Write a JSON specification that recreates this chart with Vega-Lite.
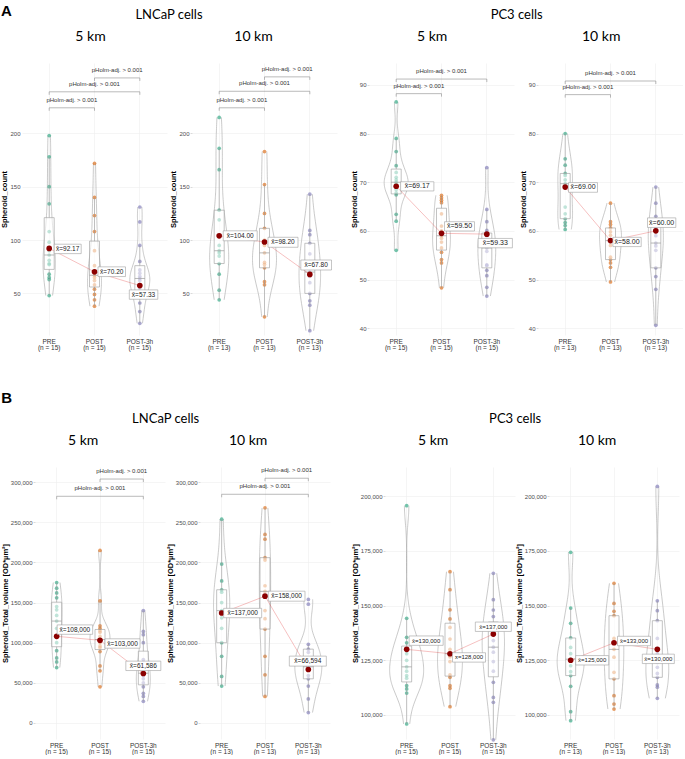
{
"$schema":"https://vega.github.io/schema/vega-lite/v6.json",
"background":"white",
"padding":{"left":0,"top":4,"right":0,"bottom":0},
"config":{
"view":{"stroke":null},
"title":{"font":"Lato","fontWeight":"normal","color":"#000","frame":"bounds","anchor":"middle"},
"axis":{"domain":false,"labelFont":"Liberation Sans","titleFont":"Liberation Sans","labelColor":"#4d4d4d","tickColor":"#b5b5b5","tickWidth":0.5,"tickSize":2,"gridColor":"#efefef","gridWidth":0.6},
"axisX":{"labelFontSize":6.5,"labelPadding":3,"ticks":false,"labelAngle":0,"labelLineHeight":6.5,"grid":true,"labelColor":"#333"},
"axisY":{"labelFontSize":6,"labelPadding":1,"titleFontSize":7.5,"titleFontWeight":"bold","titleColor":"#000","titlePadding":1,"grid":true},
"text":{"font":"Liberation Sans"}
},
"datasets":{
"A1":[{"g":"PRE","v":198},{"g":"PRE","v":178},{"g":"PRE","v":150},{"g":"PRE","v":134},{"g":"PRE","v":108},{"g":"PRE","v":98},{"g":"PRE","v":90},{"g":"PRE","v":86},{"g":"PRE","v":81},{"g":"PRE","v":78},{"g":"PRE","v":77},{"g":"PRE","v":68},{"g":"PRE","v":65},{"g":"PRE","v":63},{"g":"PRE","v":48},
{"g":"POST","v":172},{"g":"POST","v":140},{"g":"POST","v":123},{"g":"POST","v":108},{"g":"POST","v":90},{"g":"POST","v":76},{"g":"POST","v":71},{"g":"POST","v":67},{"g":"POST","v":65},{"g":"POST","v":62},{"g":"POST","v":58},{"g":"POST","v":54},{"g":"POST","v":49},{"g":"POST","v":44},{"g":"POST","v":38},
{"g":"POST-3h","v":131},{"g":"POST-3h","v":117},{"g":"POST-3h","v":95},{"g":"POST-3h","v":80},{"g":"POST-3h","v":72},{"g":"POST-3h","v":69},{"g":"POST-3h","v":66},{"g":"POST-3h","v":64},{"g":"POST-3h","v":62},{"g":"POST-3h","v":58},{"g":"POST-3h","v":55},{"g":"POST-3h","v":49},{"g":"POST-3h","v":41},{"g":"POST-3h","v":33},{"g":"POST-3h","v":22}],
"A2":[{"g":"PRE","v":215},{"g":"PRE","v":186},{"g":"PRE","v":166},{"g":"PRE","v":128},{"g":"PRE","v":119},{"g":"PRE","v":95},{"g":"PRE","v":90},{"g":"PRE","v":88},{"g":"PRE","v":85},{"g":"PRE","v":78},{"g":"PRE","v":68},{"g":"PRE","v":53},{"g":"PRE","v":44},
{"g":"POST","v":183},{"g":"POST","v":152},{"g":"POST","v":125},{"g":"POST","v":111},{"g":"POST","v":100},{"g":"POST","v":95},{"g":"POST","v":88},{"g":"POST","v":79},{"g":"POST","v":77},{"g":"POST","v":74},{"g":"POST","v":61},{"g":"POST","v":58},{"g":"POST","v":28},
{"g":"POST-3h","v":143},{"g":"POST-3h","v":109},{"g":"POST-3h","v":105},{"g":"POST-3h","v":97},{"g":"POST-3h","v":87},{"g":"POST-3h","v":75},{"g":"POST-3h","v":70},{"g":"POST-3h","v":66},{"g":"POST-3h","v":60},{"g":"POST-3h","v":50},{"g":"POST-3h","v":43},{"g":"POST-3h","v":39},{"g":"POST-3h","v":15}],
"A3":[{"g":"PRE","v":86.5},{"g":"PRE","v":79},{"g":"PRE","v":76.3},{"g":"PRE","v":73.4},{"g":"PRE","v":72},{"g":"PRE","v":71},{"g":"PRE","v":70.5},{"g":"PRE","v":70},{"g":"PRE","v":69.6},{"g":"PRE","v":68.5},{"g":"PRE","v":67.8},{"g":"PRE","v":67.4},{"g":"PRE","v":63.4},{"g":"PRE","v":62},{"g":"PRE","v":56},
{"g":"POST","v":67.3},{"g":"POST","v":66.8},{"g":"POST","v":66.3},{"g":"POST","v":65.8},{"g":"POST","v":63.5},{"g":"POST","v":61},{"g":"POST","v":60},{"g":"POST","v":59},{"g":"POST","v":58.5},{"g":"POST","v":57.7},{"g":"POST","v":56.5},{"g":"POST","v":55.6},{"g":"POST","v":54.1},{"g":"POST","v":53.4},{"g":"POST","v":48.3},
{"g":"POST-3h","v":73},{"g":"POST-3h","v":64.4},{"g":"POST-3h","v":61.9},{"g":"POST-3h","v":60.1},{"g":"POST-3h","v":59},{"g":"POST-3h","v":58},{"g":"POST-3h","v":57},{"g":"POST-3h","v":56.5},{"g":"POST-3h","v":55.8},{"g":"POST-3h","v":53},{"g":"POST-3h","v":52.9},{"g":"POST-3h","v":51.9},{"g":"POST-3h","v":50.8},{"g":"POST-3h","v":48.4},{"g":"POST-3h","v":46.6}],
"A4":[{"g":"PRE","v":80},{"g":"PRE","v":74.8},{"g":"PRE","v":73.5},{"g":"PRE","v":71.8},{"g":"PRE","v":71.4},{"g":"PRE","v":70.5},{"g":"PRE","v":69.7},{"g":"PRE","v":64.9},{"g":"PRE","v":63.5},{"g":"PRE","v":62.5},{"g":"PRE","v":61.7},{"g":"PRE","v":61.1},{"g":"PRE","v":60.3},
{"g":"POST","v":65.7},{"g":"POST","v":61.9},{"g":"POST","v":61.3},{"g":"POST","v":60.6},{"g":"POST","v":59.8},{"g":"POST","v":59.1},{"g":"POST","v":58},{"g":"POST","v":57},{"g":"POST","v":54.6},{"g":"POST","v":54.1},{"g":"POST","v":53.4},{"g":"POST","v":52.5},{"g":"POST","v":49.5},
{"g":"POST-3h","v":69},{"g":"POST-3h","v":65.7},{"g":"POST-3h","v":63},{"g":"POST-3h","v":61.5},{"g":"POST-3h","v":60.5},{"g":"POST-3h","v":59},{"g":"POST-3h","v":57.5},{"g":"POST-3h","v":56.9},{"g":"POST-3h","v":56},{"g":"POST-3h","v":52.4},{"g":"POST-3h","v":50.6},{"g":"POST-3h","v":48},{"g":"POST-3h","v":40.6}],
"B1":[{"g":"PRE","v":175000},{"g":"PRE","v":168000},{"g":"PRE","v":162000},{"g":"PRE","v":156000},{"g":"PRE","v":145000},{"g":"PRE","v":141000},{"g":"PRE","v":134000},{"g":"PRE","v":127000},{"g":"PRE","v":118000},{"g":"PRE","v":108000},{"g":"PRE","v":100000},{"g":"PRE","v":90000},{"g":"PRE","v":81000},{"g":"PRE","v":76000},{"g":"PRE","v":69000},
{"g":"POST","v":215000},{"g":"POST","v":152000},{"g":"POST","v":121000},{"g":"POST","v":118000},{"g":"POST","v":115000},{"g":"POST","v":113000},{"g":"POST","v":108000},{"g":"POST","v":104000},{"g":"POST","v":100000},{"g":"POST","v":96000},{"g":"POST","v":94000},{"g":"POST","v":89000},{"g":"POST","v":71000},{"g":"POST","v":65000},{"g":"POST","v":45000},
{"g":"POST-3h","v":140000},{"g":"POST-3h","v":114000},{"g":"POST-3h","v":110000},{"g":"POST-3h","v":100000},{"g":"POST-3h","v":79000},{"g":"POST-3h","v":75000},{"g":"POST-3h","v":66000},{"g":"POST-3h","v":62000},{"g":"POST-3h","v":59000},{"g":"POST-3h","v":55000},{"g":"POST-3h","v":50000},{"g":"POST-3h","v":45000},{"g":"POST-3h","v":37000},{"g":"POST-3h","v":33000},{"g":"POST-3h","v":27000}],
"B2":[{"g":"PRE","v":254000},{"g":"PRE","v":198000},{"g":"PRE","v":177000},{"g":"PRE","v":166000},{"g":"PRE","v":163000},{"g":"PRE","v":150000},{"g":"PRE","v":140000},{"g":"PRE","v":131000},{"g":"PRE","v":118000},{"g":"PRE","v":100000},{"g":"PRE","v":83000},{"g":"PRE","v":58000},{"g":"PRE","v":46000},
{"g":"POST","v":268000},{"g":"POST","v":235000},{"g":"POST","v":229000},{"g":"POST","v":206000},{"g":"POST","v":203000},{"g":"POST","v":171000},{"g":"POST","v":164000},{"g":"POST","v":140000},{"g":"POST","v":130000},{"g":"POST","v":117000},{"g":"POST","v":83000},{"g":"POST","v":60000},{"g":"POST","v":33000},
{"g":"POST-3h","v":154000},{"g":"POST-3h","v":148000},{"g":"POST-3h","v":98000},{"g":"POST-3h","v":92000},{"g":"POST-3h","v":88000},{"g":"POST-3h","v":80000},{"g":"POST-3h","v":70000},{"g":"POST-3h","v":66000},{"g":"POST-3h","v":59000},{"g":"POST-3h","v":55000},{"g":"POST-3h","v":46000},{"g":"POST-3h","v":30000},{"g":"POST-3h","v":13000}],
"B3":[{"g":"PRE","v":195700},{"g":"PRE","v":144200},{"g":"PRE","v":135500},{"g":"PRE","v":133000},{"g":"PRE","v":130000},{"g":"PRE","v":128000},{"g":"PRE","v":125000},{"g":"PRE","v":122000},{"g":"PRE","v":120000},{"g":"PRE","v":118000},{"g":"PRE","v":116800},{"g":"PRE","v":113400},{"g":"PRE","v":111900},{"g":"PRE","v":110000},{"g":"PRE","v":95900},
{"g":"POST","v":165500},{"g":"POST","v":157300},{"g":"POST","v":148100},{"g":"POST","v":143900},{"g":"POST","v":140000},{"g":"POST","v":134700},{"g":"POST","v":130000},{"g":"POST","v":128000},{"g":"POST","v":126600},{"g":"POST","v":124400},{"g":"POST","v":118300},{"g":"POST","v":117200},{"g":"POST","v":113400},{"g":"POST","v":112200},{"g":"POST","v":103800},
{"g":"POST-3h","v":164800},{"g":"POST-3h","v":152700},{"g":"POST-3h","v":148000},{"g":"POST-3h","v":145000},{"g":"POST-3h","v":140000},{"g":"POST-3h","v":137000},{"g":"POST-3h","v":134000},{"g":"POST-3h","v":131000},{"g":"POST-3h","v":128700},{"g":"POST-3h","v":124400},{"g":"POST-3h","v":120000},{"g":"POST-3h","v":114900},{"g":"POST-3h","v":108000},{"g":"POST-3h","v":105800},{"g":"POST-3h","v":88600}],
"B4":[{"g":"PRE","v":174400},{"g":"PRE","v":148900},{"g":"PRE","v":141900},{"g":"PRE","v":135200},{"g":"PRE","v":130900},{"g":"PRE","v":128000},{"g":"PRE","v":125500},{"g":"PRE","v":122500},{"g":"PRE","v":119800},{"g":"PRE","v":118000},{"g":"PRE","v":113100},{"g":"PRE","v":101500},{"g":"PRE","v":97400},
{"g":"POST","v":160200},{"g":"POST","v":151000},{"g":"POST","v":147400},{"g":"POST","v":145400},{"g":"POST","v":135000},{"g":"POST","v":133000},{"g":"POST","v":130000},{"g":"POST","v":126400},{"g":"POST","v":119500},{"g":"POST","v":116500},{"g":"POST","v":108800},{"g":"POST","v":105000},{"g":"POST","v":102700},
{"g":"POST-3h","v":204500},{"g":"POST-3h","v":152200},{"g":"POST-3h","v":147700},{"g":"POST-3h","v":143100},{"g":"POST-3h","v":135000},{"g":"POST-3h","v":128000},{"g":"POST-3h","v":124000},{"g":"POST-3h","v":121800},{"g":"POST-3h","v":119000},{"g":"POST-3h","v":117200},{"g":"POST-3h","v":113700},{"g":"POST-3h","v":112700},{"g":"POST-3h","v":107600}],
"A1m":[{"g":"PRE","v":92.17,"t":"x\u0304=92.17"},{"g":"POST","v":70.2,"t":"x\u0304=70.20"},{"g":"POST-3h","v":57.33,"t":"x\u0304=57.33"}],
"A2m":[{"g":"PRE","v":104,"t":"x\u0304=104.00"},{"g":"POST","v":98.2,"t":"x\u0304=98.20"},{"g":"POST-3h","v":67.8,"t":"x\u0304=67.80"}],
"A3m":[{"g":"PRE","v":69.17,"t":"x\u0304=69.17"},{"g":"POST","v":59.5,"t":"x\u0304=59.50"},{"g":"POST-3h","v":59.33,"t":"x\u0304=59.33"}],
"A4m":[{"g":"PRE","v":69,"t":"x\u0304=69.00"},{"g":"POST","v":58,"t":"x\u0304=58.00"},{"g":"POST-3h","v":60,"t":"x\u0304=60.00"}],
"B1m":[{"g":"PRE","v":108000,"t":"x\u0304=108,000"},{"g":"POST","v":103000,"t":"x\u0304=103,000"},{"g":"POST-3h","v":61586,"t":"x\u0304=61,586"}],
"B2m":[{"g":"PRE","v":137000,"t":"x\u0304=137,000"},{"g":"POST","v":158000,"t":"x\u0304=158,000"},{"g":"POST-3h","v":66594,"t":"x\u0304=66,594"}],
"B3m":[{"g":"PRE","v":130000,"t":"x\u0304=130,000"},{"g":"POST","v":128000,"t":"x\u0304=128,000"},{"g":"POST-3h","v":137000,"t":"x\u0304=137,000"}],
"B4m":[{"g":"PRE","v":125000,"t":"x\u0304=125,000"},{"g":"POST","v":133000,"t":"x\u0304=133,000"},{"g":"POST-3h","v":130000,"t":"x\u0304=130,000"}],
"A1b":[{"g":"PRE","b":"POST","v":224},{"g":"PRE","b":"POST-3h","v":239},{"g":"POST","b":"POST-3h","v":252}],
"A2b":[{"g":"PRE","b":"POST","v":224},{"g":"PRE","b":"POST-3h","v":239.5},{"g":"POST","b":"POST-3h","v":253}],
"A3b":[{"g":"PRE","b":"POST","v":88.2},{"g":"PRE","b":"POST-3h","v":91.2}],
"A4b":[{"g":"PRE","b":"POST","v":88},{"g":"PRE","b":"POST-3h","v":90.8}],
"B1b":[{"g":"PRE","b":"POST-3h","v":282500},{"g":"POST","b":"POST-3h","v":304000}],
"B2b":[{"g":"PRE","b":"POST-3h","v":285000},{"g":"POST","b":"POST-3h","v":305000}]
},
"spacing":40,
"vconcat":[
{"title":{"text":"A","anchor":"start","fontSize":15,"fontWeight":"bold","font":"Liberation Sans","offset":0,"dy":10},"columns":2,"align":"none","spacing":13,
"concat":[
{"title":{"text":"LNCaP cells","fontSize":13,"offset":8},"columns":2,"align":"none","spacing":-11,"concat":[
{"width":132,"height":272,"title":{"text":"5 km","fontSize":14,"offset":19},"data":{"name":"A1"},"resolve":{"scale":{"xOffset":"independent"}},
"encoding":{"x":{"field":"g","type":"nominal","title":null,"scale":{"domain":["PRE","POST","POST-3h"],"range":[-13,132],"paddingInner":0,"paddingOuter":0.1},"axis":{"labelExpr":"[datum.label,'(n = 15)']","bandPosition":0.5}},"y":{"field":"v","type":"quantitative","scale":{"domain":[11,266],"nice":false,"zero":false},"axis":{"values":[50,100,150,200],"title":"Spheroid_count","ticks":false,"labelPadding":15}}},
"layer":[
{"transform":[{"density":"v","groupby":["g"],"resolve":"independent","as":["v","d"]}],"mark":{"type":"line","color":"#a6a6a6","strokeWidth":0.6},"encoding":{"xOffset":{"field":"d","type":"quantitative","scale":{"range":[22.65,32.65],"zero":true,"nice":false}},"detail":{"field":"g"},"order":{"field":"v","type":"quantitative"}}},
{"transform":[{"density":"v","groupby":["g"],"resolve":"independent","as":["v","d"]}],"mark":{"type":"line","color":"#a6a6a6","strokeWidth":0.6},"encoding":{"xOffset":{"field":"d","type":"quantitative","scale":{"range":[22.65,12.65],"zero":true,"nice":false}},"detail":{"field":"g"},"order":{"field":"v","type":"quantitative"}}},
{"mark":{"type":"circle","size":14,"opacity":0.6},"encoding":{"color":{"field":"g","type":"nominal","scale":{"domain":["PRE","POST","POST-3h"],"range":["#1B9E77","#D95F02","#7570B3"]},"legend":null}}},
{"mark":{"type":"boxplot","size":10,"outliers":false,"box":{"fill":"white","fillOpacity":0.55,"stroke":"#9a9a9a","strokeWidth":0.6},"median":{"color":"#9a9a9a","strokeWidth":0.6},"rule":{"color":"#9a9a9a","strokeWidth":0.6}}},
{"data":{"name":"A1m"},"mark":{"type":"line","color":"#e03030","opacity":0.5,"strokeWidth":0.6},"encoding":{"order":{"value":null}}},
{"data":{"name":"A1m"},"mark":{"type":"circle","color":"#8B0000","size":32,"opacity":1}},
{"data":{"name":"A1m"},"transform":[{"filter":"datum.g=='PRE'"}],"mark":{"type":"point","shape":"M5,-4.2H32V5.2H5Z","size":4,"filled":true,"fill":"white","stroke":"#a0a0a0","strokeWidth":0.6,"opacity":1}},
{"data":{"name":"A1m"},"transform":[{"filter":"datum.g=='PRE'"}],"mark":{"type":"text","fontSize":6.5,"dx":18.5,"dy":0.5,"color":"#222"},"encoding":{"text":{"field":"t"}}},
{"data":{"name":"A1m"},"transform":[{"filter":"datum.g=='POST'"}],"mark":{"type":"point","shape":"M3.5,-5H31V4.7H3.5Z","size":4,"filled":true,"fill":"white","stroke":"#a0a0a0","strokeWidth":0.6,"opacity":1}},
{"data":{"name":"A1m"},"transform":[{"filter":"datum.g=='POST'"}],"mark":{"type":"text","fontSize":6.5,"dx":17.2,"dy":-0.2,"color":"#222"},"encoding":{"text":{"field":"t"}}},
{"data":{"name":"A1m"},"transform":[{"filter":"datum.g=='POST-3h'"}],"mark":{"type":"point","shape":"M-10.5,4.3H18V13.7H-10.5Z","size":4,"filled":true,"fill":"white","stroke":"#a0a0a0","strokeWidth":0.6,"opacity":1}},
{"data":{"name":"A1m"},"transform":[{"filter":"datum.g=='POST-3h'"}],"mark":{"type":"text","fontSize":6.5,"dx":3.7,"dy":9,"color":"#222"},"encoding":{"text":{"field":"t"}}},
{"data":{"name":"A1b"},"mark":{"type":"rule","color":"#8c8c8c","strokeWidth":0.6},"encoding":{"x2":{"field":"b"}}},
{"data":{"name":"A1b"},"transform":[{"fold":["g","b"],"as":["k","g"]}],"mark":{"type":"point","shape":"M0,0V3","size":4,"filled":false,"color":"#8c8c8c","strokeWidth":0.6,"opacity":1}},
{"data":{"name":"A1b"},"transform":[{"filter":"datum.g=='PRE'&&datum.b=='POST-3h'"}],"mark":{"type":"text","text":"pHolm-adj. > 0.001","fontSize":6,"dx":45.3,"dy":-8,"color":"#333"}},
{"data":{"name":"A1b"},"transform":[{"filter":"!(datum.g=='PRE'&&datum.b=='POST-3h')"}],"mark":{"type":"text","text":"pHolm-adj. > 0.001","fontSize":6,"dx":22.65,"dy":-8,"color":"#333"}}
]},
{"width":145,"height":272,"title":{"text":"10 km","fontSize":14,"offset":19},"data":{"name":"A2"},"resolve":{"scale":{"xOffset":"independent"}},
"encoding":{"x":{"field":"g","type":"nominal","title":null,"scale":{"domain":["PRE","POST","POST-3h"],"paddingInner":0,"paddingOuter":0.1},"axis":{"labelExpr":"[datum.label,'(n = 13)']","bandPosition":0.5}},"y":{"field":"v","type":"quantitative","scale":{"domain":[11,266],"nice":false,"zero":false},"axis":{"values":[50,100,150,200],"title":"Spheroid_count"}}},
"layer":[
{"transform":[{"density":"v","groupby":["g"],"resolve":"independent","as":["v","d"]}],"mark":{"type":"line","color":"#a6a6a6","strokeWidth":0.6},"encoding":{"xOffset":{"field":"d","type":"quantitative","scale":{"range":[22.65,34.65],"zero":true,"nice":false}},"detail":{"field":"g"},"order":{"field":"v","type":"quantitative"}}},
{"transform":[{"density":"v","groupby":["g"],"resolve":"independent","as":["v","d"]}],"mark":{"type":"line","color":"#a6a6a6","strokeWidth":0.6},"encoding":{"xOffset":{"field":"d","type":"quantitative","scale":{"range":[22.65,10.65],"zero":true,"nice":false}},"detail":{"field":"g"},"order":{"field":"v","type":"quantitative"}}},
{"mark":{"type":"circle","size":14,"opacity":0.6},"encoding":{"color":{"field":"g","type":"nominal","scale":{"domain":["PRE","POST","POST-3h"],"range":["#1B9E77","#D95F02","#7570B3"]},"legend":null}}},
{"mark":{"type":"boxplot","size":10,"outliers":false,"box":{"fill":"white","fillOpacity":0.55,"stroke":"#9a9a9a","strokeWidth":0.6},"median":{"color":"#9a9a9a","strokeWidth":0.6},"rule":{"color":"#9a9a9a","strokeWidth":0.6}}},
{"data":{"name":"A2m"},"mark":{"type":"line","color":"#e03030","opacity":0.5,"strokeWidth":0.6},"encoding":{"order":{"value":null}}},
{"data":{"name":"A2m"},"mark":{"type":"circle","color":"#8B0000","size":32,"opacity":1}},
{"data":{"name":"A2m"},"transform":[{"filter":"datum.g=='PRE'"}],"mark":{"type":"point","shape":"M4,-5H38V5H4Z","size":4,"filled":true,"fill":"white","stroke":"#a0a0a0","strokeWidth":0.6,"opacity":1}},
{"data":{"name":"A2m"},"transform":[{"filter":"datum.g=='PRE'"}],"mark":{"type":"text","fontSize":6.5,"dx":21,"dy":0,"color":"#222"},"encoding":{"text":{"field":"t"}}},
{"data":{"name":"A2m"},"transform":[{"filter":"datum.g=='POST'"}],"mark":{"type":"point","shape":"M3.5,-4.7H33.5V5.3H3.5Z","size":4,"filled":true,"fill":"white","stroke":"#a0a0a0","strokeWidth":0.6,"opacity":1}},
{"data":{"name":"A2m"},"transform":[{"filter":"datum.g=='POST'"}],"mark":{"type":"text","fontSize":6.5,"dx":18.5,"dy":0.3,"color":"#222"},"encoding":{"text":{"field":"t"}}},
{"data":{"name":"A2m"},"transform":[{"filter":"datum.g=='POST-3h'"}],"mark":{"type":"point","shape":"M-9,-14.4H21.7V-4.4H-9Z","size":4,"filled":true,"fill":"white","stroke":"#a0a0a0","strokeWidth":0.6,"opacity":1}},
{"data":{"name":"A2m"},"transform":[{"filter":"datum.g=='POST-3h'"}],"mark":{"type":"text","fontSize":6.5,"dx":6.3,"dy":-9.4,"color":"#222"},"encoding":{"text":{"field":"t"}}},
{"data":{"name":"A2b"},"mark":{"type":"rule","color":"#8c8c8c","strokeWidth":0.6},"encoding":{"x2":{"field":"b"}}},
{"data":{"name":"A2b"},"transform":[{"fold":["g","b"],"as":["k","g"]}],"mark":{"type":"point","shape":"M0,0V3","size":4,"filled":false,"color":"#8c8c8c","strokeWidth":0.6,"opacity":1}},
{"data":{"name":"A2b"},"transform":[{"filter":"datum.g=='PRE'&&datum.b=='POST-3h'"}],"mark":{"type":"text","text":"pHolm-adj. > 0.001","fontSize":6,"dx":45.3,"dy":-8,"color":"#333"}},
{"data":{"name":"A2b"},"transform":[{"filter":"!(datum.g=='PRE'&&datum.b=='POST-3h')"}],"mark":{"type":"text","text":"pHolm-adj. > 0.001","fontSize":6,"dx":22.65,"dy":-8,"color":"#333"}}
]}
]},
{"title":{"text":"PC3 cells","fontSize":13,"offset":8},"columns":2,"align":"none","spacing":5,"concat":[
{"width":145,"height":272,"title":{"text":"5 km","fontSize":14,"offset":19},"data":{"name":"A3"},"resolve":{"scale":{"xOffset":"independent"}},
"encoding":{"x":{"field":"g","type":"nominal","title":null,"scale":{"domain":["PRE","POST","POST-3h"],"paddingInner":0,"paddingOuter":0.1},"axis":{"labelExpr":"[datum.label,'(n = 15)']","bandPosition":0.5}},"y":{"field":"v","type":"quantitative","scale":{"domain":[38.6,94.5],"nice":false,"zero":false},"axis":{"values":[40,50,60,70,80,90],"title":"Spheroid_count"}}},
"layer":[
{"transform":[{"density":"v","groupby":["g"],"resolve":"independent","as":["v","d"]}],"mark":{"type":"line","color":"#a6a6a6","strokeWidth":0.6},"encoding":{"xOffset":{"field":"d","type":"quantitative","scale":{"range":[22.65,34.65],"zero":true,"nice":false}},"detail":{"field":"g"},"order":{"field":"v","type":"quantitative"}}},
{"transform":[{"density":"v","groupby":["g"],"resolve":"independent","as":["v","d"]}],"mark":{"type":"line","color":"#a6a6a6","strokeWidth":0.6},"encoding":{"xOffset":{"field":"d","type":"quantitative","scale":{"range":[22.65,10.65],"zero":true,"nice":false}},"detail":{"field":"g"},"order":{"field":"v","type":"quantitative"}}},
{"mark":{"type":"circle","size":14,"opacity":0.6},"encoding":{"color":{"field":"g","type":"nominal","scale":{"domain":["PRE","POST","POST-3h"],"range":["#1B9E77","#D95F02","#7570B3"]},"legend":null}}},
{"mark":{"type":"boxplot","size":10,"outliers":false,"box":{"fill":"white","fillOpacity":0.55,"stroke":"#9a9a9a","strokeWidth":0.6},"median":{"color":"#9a9a9a","strokeWidth":0.6},"rule":{"color":"#9a9a9a","strokeWidth":0.6}}},
{"data":{"name":"A3m"},"mark":{"type":"line","color":"#e03030","opacity":0.5,"strokeWidth":0.6},"encoding":{"order":{"value":null}}},
{"data":{"name":"A3m"},"mark":{"type":"circle","color":"#8B0000","size":32,"opacity":1}},
{"data":{"name":"A3m"},"transform":[{"filter":"datum.g=='PRE'"}],"mark":{"type":"point","shape":"M4.4,-4.5H37.7V4.7H4.4Z","size":4,"filled":true,"fill":"white","stroke":"#a0a0a0","strokeWidth":0.6,"opacity":1}},
{"data":{"name":"A3m"},"transform":[{"filter":"datum.g=='PRE'"}],"mark":{"type":"text","fontSize":7,"dx":21,"dy":0.1,"color":"#222"},"encoding":{"text":{"field":"t"}}},
{"data":{"name":"A3m"},"transform":[{"filter":"datum.g=='POST'"}],"mark":{"type":"point","shape":"M3,-11.6H33V-2.3H3Z","size":4,"filled":true,"fill":"white","stroke":"#a0a0a0","strokeWidth":0.6,"opacity":1}},
{"data":{"name":"A3m"},"transform":[{"filter":"datum.g=='POST'"}],"mark":{"type":"text","fontSize":7,"dx":18,"dy":-7,"color":"#222"},"encoding":{"text":{"field":"t"}}},
{"data":{"name":"A3m"},"transform":[{"filter":"datum.g=='POST-3h'"}],"mark":{"type":"point","shape":"M-8.7,4.3H25.6V13.7H-8.7Z","size":4,"filled":true,"fill":"white","stroke":"#a0a0a0","strokeWidth":0.6,"opacity":1}},
{"data":{"name":"A3m"},"transform":[{"filter":"datum.g=='POST-3h'"}],"mark":{"type":"text","fontSize":7,"dx":8.5,"dy":9,"color":"#222"},"encoding":{"text":{"field":"t"}}},
{"data":{"name":"A3b"},"mark":{"type":"rule","color":"#8c8c8c","strokeWidth":0.6},"encoding":{"x2":{"field":"b"}}},
{"data":{"name":"A3b"},"transform":[{"fold":["g","b"],"as":["k","g"]}],"mark":{"type":"point","shape":"M0,0V3","size":4,"filled":false,"color":"#8c8c8c","strokeWidth":0.6,"opacity":1}},
{"data":{"name":"A3b"},"transform":[{"filter":"datum.g=='PRE'&&datum.b=='POST-3h'"}],"mark":{"type":"text","text":"pHolm-adj. > 0.001","fontSize":6,"dx":45.3,"dy":-8,"color":"#333"}},
{"data":{"name":"A3b"},"transform":[{"filter":"!(datum.g=='PRE'&&datum.b=='POST-3h')"}],"mark":{"type":"text","text":"pHolm-adj. > 0.001","fontSize":6,"dx":22.65,"dy":-8,"color":"#333"}}
]},
{"width":145,"height":272,"title":{"text":"10 km","fontSize":14,"offset":19},"data":{"name":"A4"},"resolve":{"scale":{"xOffset":"independent"}},
"encoding":{"x":{"field":"g","type":"nominal","title":null,"scale":{"domain":["PRE","POST","POST-3h"],"paddingInner":0,"paddingOuter":0.1},"axis":{"labelExpr":"[datum.label,'(n = 13)']","bandPosition":0.5}},"y":{"field":"v","type":"quantitative","scale":{"domain":[38.6,94.5],"nice":false,"zero":false},"axis":{"values":[40,50,60,70,80,90],"title":"Spheroid_count"}}},
"layer":[
{"transform":[{"density":"v","groupby":["g"],"resolve":"independent","as":["v","d"]}],"mark":{"type":"line","color":"#a6a6a6","strokeWidth":0.6},"encoding":{"xOffset":{"field":"d","type":"quantitative","scale":{"range":[22.65,33.65],"zero":true,"nice":false}},"detail":{"field":"g"},"order":{"field":"v","type":"quantitative"}}},
{"transform":[{"density":"v","groupby":["g"],"resolve":"independent","as":["v","d"]}],"mark":{"type":"line","color":"#a6a6a6","strokeWidth":0.6},"encoding":{"xOffset":{"field":"d","type":"quantitative","scale":{"range":[22.65,11.65],"zero":true,"nice":false}},"detail":{"field":"g"},"order":{"field":"v","type":"quantitative"}}},
{"mark":{"type":"circle","size":14,"opacity":0.6},"encoding":{"color":{"field":"g","type":"nominal","scale":{"domain":["PRE","POST","POST-3h"],"range":["#1B9E77","#D95F02","#7570B3"]},"legend":null}}},
{"mark":{"type":"boxplot","size":10,"outliers":false,"box":{"fill":"white","fillOpacity":0.55,"stroke":"#9a9a9a","strokeWidth":0.6},"median":{"color":"#9a9a9a","strokeWidth":0.6},"rule":{"color":"#9a9a9a","strokeWidth":0.6}}},
{"data":{"name":"A4m"},"mark":{"type":"line","color":"#e03030","opacity":0.5,"strokeWidth":0.6},"encoding":{"order":{"value":null}}},
{"data":{"name":"A4m"},"mark":{"type":"circle","color":"#8B0000","size":32,"opacity":1}},
{"data":{"name":"A4m"},"transform":[{"filter":"datum.g=='PRE'"}],"mark":{"type":"point","shape":"M3.3,-4.5H32.3V5.2H3.3Z","size":4,"filled":true,"fill":"white","stroke":"#a0a0a0","strokeWidth":0.6,"opacity":1}},
{"data":{"name":"A4m"},"transform":[{"filter":"datum.g=='PRE'"}],"mark":{"type":"text","fontSize":7,"dx":17.8,"dy":0.3,"color":"#222"},"encoding":{"text":{"field":"t"}}},
{"data":{"name":"A4m"},"transform":[{"filter":"datum.g=='POST'"}],"mark":{"type":"point","shape":"M2.4,-3.3H30.7V6H2.4Z","size":4,"filled":true,"fill":"white","stroke":"#a0a0a0","strokeWidth":0.6,"opacity":1}},
{"data":{"name":"A4m"},"transform":[{"filter":"datum.g=='POST'"}],"mark":{"type":"text","fontSize":7,"dx":16.5,"dy":1.3,"color":"#222"},"encoding":{"text":{"field":"t"}}},
{"data":{"name":"A4m"},"transform":[{"filter":"datum.g=='POST-3h'"}],"mark":{"type":"point","shape":"M-8.3,-13H20V-3.4H-8.3Z","size":4,"filled":true,"fill":"white","stroke":"#a0a0a0","strokeWidth":0.6,"opacity":1}},
{"data":{"name":"A4m"},"transform":[{"filter":"datum.g=='POST-3h'"}],"mark":{"type":"text","fontSize":7,"dx":5.8,"dy":-8.2,"color":"#222"},"encoding":{"text":{"field":"t"}}},
{"data":{"name":"A4b"},"mark":{"type":"rule","color":"#8c8c8c","strokeWidth":0.6},"encoding":{"x2":{"field":"b"}}},
{"data":{"name":"A4b"},"transform":[{"fold":["g","b"],"as":["k","g"]}],"mark":{"type":"point","shape":"M0,0V3","size":4,"filled":false,"color":"#8c8c8c","strokeWidth":0.6,"opacity":1}},
{"data":{"name":"A4b"},"transform":[{"filter":"datum.g=='PRE'&&datum.b=='POST-3h'"}],"mark":{"type":"text","text":"pHolm-adj. > 0.001","fontSize":6,"dx":45.3,"dy":-8,"color":"#333"}},
{"data":{"name":"A4b"},"transform":[{"filter":"!(datum.g=='PRE'&&datum.b=='POST-3h')"}],"mark":{"type":"text","text":"pHolm-adj. > 0.001","fontSize":6,"dx":22.65,"dy":-8,"color":"#333"}}
]}
]}
]},
{"title":{"text":"B","anchor":"start","fontSize":15,"fontWeight":"bold","font":"Liberation Sans","offset":0,"dy":-7},"columns":2,"align":"none","spacing":21,
"concat":[
{"title":{"text":"LNCaP cells","fontSize":13,"offset":8},"columns":2,"align":"none","spacing":1,"concat":[
{"width":130,"height":272,"title":{"text":"5 km","fontSize":14,"offset":19},"data":{"name":"B1"},"resolve":{"scale":{"xOffset":"independent"}},
"encoding":{"x":{"field":"g","type":"nominal","title":null,"scale":{"domain":["PRE","POST","POST-3h"],"paddingInner":0,"paddingOuter":0},"axis":{"labelExpr":"[datum.label,'(n = 15)']","bandPosition":0.5}},"y":{"field":"v","type":"quantitative","scale":{"domain":[-20000,319000],"nice":false,"zero":false},"axis":{"values":[0,50000,100000,150000,200000,250000,300000],"format":",.0f","title":"Spheroid_Total_volume [OD*µm²]"}}},
"layer":[
{"transform":[{"density":"v","groupby":["g"],"resolve":"independent","as":["v","d"]}],"mark":{"type":"line","color":"#a6a6a6","strokeWidth":0.6},"encoding":{"xOffset":{"field":"d","type":"quantitative","scale":{"range":[21.65,31.65],"zero":true,"nice":false}},"detail":{"field":"g"},"order":{"field":"v","type":"quantitative"}}},
{"transform":[{"density":"v","groupby":["g"],"resolve":"independent","as":["v","d"]}],"mark":{"type":"line","color":"#a6a6a6","strokeWidth":0.6},"encoding":{"xOffset":{"field":"d","type":"quantitative","scale":{"range":[21.65,11.65],"zero":true,"nice":false}},"detail":{"field":"g"},"order":{"field":"v","type":"quantitative"}}},
{"mark":{"type":"circle","size":14,"opacity":0.6},"encoding":{"color":{"field":"g","type":"nominal","scale":{"domain":["PRE","POST","POST-3h"],"range":["#1B9E77","#D95F02","#7570B3"]},"legend":null}}},
{"mark":{"type":"boxplot","size":10,"outliers":false,"box":{"fill":"white","fillOpacity":0.55,"stroke":"#9a9a9a","strokeWidth":0.6},"median":{"color":"#9a9a9a","strokeWidth":0.6},"rule":{"color":"#9a9a9a","strokeWidth":0.6}}},
{"data":{"name":"B1m"},"mark":{"type":"line","color":"#e03030","opacity":0.5,"strokeWidth":0.6},"encoding":{"order":{"value":null}}},
{"data":{"name":"B1m"},"mark":{"type":"circle","color":"#8B0000","size":32,"opacity":1}},
{"data":{"name":"B1m"},"transform":[{"filter":"datum.g=='PRE'"}],"mark":{"type":"point","shape":"M0.5,-11.4H36V-2H0.5Z","size":4,"filled":true,"fill":"white","stroke":"#a0a0a0","strokeWidth":0.6,"opacity":1}},
{"data":{"name":"B1m"},"transform":[{"filter":"datum.g=='PRE'"}],"mark":{"type":"text","fontSize":6.5,"dx":18.2,"dy":-6.7,"color":"#222"},"encoding":{"text":{"field":"t"}}},
{"data":{"name":"B1m"},"transform":[{"filter":"datum.g=='POST'"}],"mark":{"type":"point","shape":"M5,-1.5H40V7.9H5Z","size":4,"filled":true,"fill":"white","stroke":"#a0a0a0","strokeWidth":0.6,"opacity":1}},
{"data":{"name":"B1m"},"transform":[{"filter":"datum.g=='POST'"}],"mark":{"type":"text","fontSize":6.5,"dx":22.5,"dy":3.2,"color":"#222"},"encoding":{"text":{"field":"t"}}},
{"data":{"name":"B1m"},"transform":[{"filter":"datum.g=='POST-3h'"}],"mark":{"type":"point","shape":"M-17.5,-12.4H17.5V-3H-17.5Z","size":4,"filled":true,"fill":"white","stroke":"#a0a0a0","strokeWidth":0.6,"opacity":1}},
{"data":{"name":"B1m"},"transform":[{"filter":"datum.g=='POST-3h'"}],"mark":{"type":"text","fontSize":6.5,"dx":0,"dy":-7.7,"color":"#222"},"encoding":{"text":{"field":"t"}}},
{"data":{"name":"B1b"},"mark":{"type":"rule","color":"#8c8c8c","strokeWidth":0.6},"encoding":{"x2":{"field":"b"}}},
{"data":{"name":"B1b"},"transform":[{"fold":["g","b"],"as":["k","g"]}],"mark":{"type":"point","shape":"M0,0V3","size":4,"filled":false,"color":"#8c8c8c","strokeWidth":0.6,"opacity":1}},
{"data":{"name":"B1b"},"transform":[{"filter":"datum.g=='PRE'&&datum.b=='POST-3h'"}],"mark":{"type":"text","text":"pHolm-adj. > 0.001","fontSize":6,"dx":43.3,"dy":-8,"color":"#333"}},
{"data":{"name":"B1b"},"transform":[{"filter":"!(datum.g=='PRE'&&datum.b=='POST-3h')"}],"mark":{"type":"text","text":"pHolm-adj. > 0.001","fontSize":6,"dx":21.65,"dy":-8,"color":"#333"}}
]},
{"width":130,"height":272,"title":{"text":"10 km","fontSize":14,"offset":19},"data":{"name":"B2"},"resolve":{"scale":{"xOffset":"independent"}},
"encoding":{"x":{"field":"g","type":"nominal","title":null,"scale":{"domain":["PRE","POST","POST-3h"],"paddingInner":0,"paddingOuter":0},"axis":{"labelExpr":"[datum.label,'(n = 13)']","bandPosition":0.5}},"y":{"field":"v","type":"quantitative","scale":{"domain":[-20000,319000],"nice":false,"zero":false},"axis":{"values":[0,50000,100000,150000,200000,250000,300000],"format":",.0f","title":"Spheroid_Total_volume [OD*µm²]"}}},
"layer":[
{"transform":[{"density":"v","groupby":["g"],"resolve":"independent","as":["v","d"]}],"mark":{"type":"line","color":"#a6a6a6","strokeWidth":0.6},"encoding":{"xOffset":{"field":"d","type":"quantitative","scale":{"range":[21.65,35.15],"zero":true,"nice":false}},"detail":{"field":"g"},"order":{"field":"v","type":"quantitative"}}},
{"transform":[{"density":"v","groupby":["g"],"resolve":"independent","as":["v","d"]}],"mark":{"type":"line","color":"#a6a6a6","strokeWidth":0.6},"encoding":{"xOffset":{"field":"d","type":"quantitative","scale":{"range":[21.65,8.15],"zero":true,"nice":false}},"detail":{"field":"g"},"order":{"field":"v","type":"quantitative"}}},
{"mark":{"type":"circle","size":14,"opacity":0.6},"encoding":{"color":{"field":"g","type":"nominal","scale":{"domain":["PRE","POST","POST-3h"],"range":["#1B9E77","#D95F02","#7570B3"]},"legend":null}}},
{"mark":{"type":"boxplot","size":10,"outliers":false,"box":{"fill":"white","fillOpacity":0.55,"stroke":"#9a9a9a","strokeWidth":0.6},"median":{"color":"#9a9a9a","strokeWidth":0.6},"rule":{"color":"#9a9a9a","strokeWidth":0.6}}},
{"data":{"name":"B2m"},"mark":{"type":"line","color":"#e03030","opacity":0.5,"strokeWidth":0.6},"encoding":{"order":{"value":null}}},
{"data":{"name":"B2m"},"mark":{"type":"circle","color":"#8B0000","size":32,"opacity":1}},
{"data":{"name":"B2m"},"transform":[{"filter":"datum.g=='PRE'"}],"mark":{"type":"point","shape":"M2,-4.7H40V4.7H2Z","size":4,"filled":true,"fill":"white","stroke":"#a0a0a0","strokeWidth":0.6,"opacity":1}},
{"data":{"name":"B2m"},"transform":[{"filter":"datum.g=='PRE'"}],"mark":{"type":"text","fontSize":6.5,"dx":21,"dy":0,"color":"#222"},"encoding":{"text":{"field":"t"}}},
{"data":{"name":"B2m"},"transform":[{"filter":"datum.g=='POST'"}],"mark":{"type":"point","shape":"M3.3,-5H40V5H3.3Z","size":4,"filled":true,"fill":"white","stroke":"#a0a0a0","strokeWidth":0.6,"opacity":1}},
{"data":{"name":"B2m"},"transform":[{"filter":"datum.g=='POST'"}],"mark":{"type":"text","fontSize":6.5,"dx":21.6,"dy":0,"color":"#222"},"encoding":{"text":{"field":"t"}}},
{"data":{"name":"B2m"},"transform":[{"filter":"datum.g=='POST-3h'"}],"mark":{"type":"point","shape":"M-19,-13.4H18V-3.4H-19Z","size":4,"filled":true,"fill":"white","stroke":"#a0a0a0","strokeWidth":0.6,"opacity":1}},
{"data":{"name":"B2m"},"transform":[{"filter":"datum.g=='POST-3h'"}],"mark":{"type":"text","fontSize":6.5,"dx":-0.5,"dy":-8.4,"color":"#222"},"encoding":{"text":{"field":"t"}}},
{"data":{"name":"B2b"},"mark":{"type":"rule","color":"#8c8c8c","strokeWidth":0.6},"encoding":{"x2":{"field":"b"}}},
{"data":{"name":"B2b"},"transform":[{"fold":["g","b"],"as":["k","g"]}],"mark":{"type":"point","shape":"M0,0V3","size":4,"filled":false,"color":"#8c8c8c","strokeWidth":0.6,"opacity":1}},
{"data":{"name":"B2b"},"transform":[{"filter":"datum.g=='PRE'&&datum.b=='POST-3h'"}],"mark":{"type":"text","text":"pHolm-adj. > 0.001","fontSize":6,"dx":43.3,"dy":-8,"color":"#333"}},
{"data":{"name":"B2b"},"transform":[{"filter":"!(datum.g=='PRE'&&datum.b=='POST-3h')"}],"mark":{"type":"text","text":"pHolm-adj. > 0.001","fontSize":6,"dx":21.65,"dy":-8,"color":"#333"}}
]}
]},
{"title":{"text":"PC3 cells","fontSize":13,"offset":8},"columns":2,"align":"none","spacing":0,"concat":[
{"width":130,"height":272,"title":{"text":"5 km","fontSize":14,"offset":19},"data":{"name":"B3"},"resolve":{"scale":{"xOffset":"independent"}},
"encoding":{"x":{"field":"g","type":"nominal","title":null,"scale":{"domain":["PRE","POST","POST-3h"],"paddingInner":0,"paddingOuter":0},"axis":{"labelExpr":"[datum.label,'(n = 15)']","bandPosition":0.5}},"y":{"field":"v","type":"quantitative","scale":{"domain":[89000,213400],"nice":false,"zero":false},"axis":{"values":[100000,125000,150000,175000,200000],"format":",.0f","title":"Spheroid_Total_volume [OD*µm²]"}}},
"layer":[
{"transform":[{"density":"v","groupby":["g"],"resolve":"independent","as":["v","d"]}],"mark":{"type":"line","color":"#a6a6a6","strokeWidth":0.6},"encoding":{"xOffset":{"field":"d","type":"quantitative","scale":{"range":[21.65,38.65],"zero":true,"nice":false}},"detail":{"field":"g"},"order":{"field":"v","type":"quantitative"}}},
{"transform":[{"density":"v","groupby":["g"],"resolve":"independent","as":["v","d"]}],"mark":{"type":"line","color":"#a6a6a6","strokeWidth":0.6},"encoding":{"xOffset":{"field":"d","type":"quantitative","scale":{"range":[21.65,4.65],"zero":true,"nice":false}},"detail":{"field":"g"},"order":{"field":"v","type":"quantitative"}}},
{"mark":{"type":"circle","size":14,"opacity":0.6},"encoding":{"color":{"field":"g","type":"nominal","scale":{"domain":["PRE","POST","POST-3h"],"range":["#1B9E77","#D95F02","#7570B3"]},"legend":null}}},
{"mark":{"type":"boxplot","size":10,"outliers":false,"box":{"fill":"white","fillOpacity":0.55,"stroke":"#9a9a9a","strokeWidth":0.6},"median":{"color":"#9a9a9a","strokeWidth":0.6},"rule":{"color":"#9a9a9a","strokeWidth":0.6}}},
{"data":{"name":"B3m"},"mark":{"type":"line","color":"#e03030","opacity":0.5,"strokeWidth":0.6},"encoding":{"order":{"value":null}}},
{"data":{"name":"B3m"},"mark":{"type":"circle","color":"#8B0000","size":32,"opacity":1}},
{"data":{"name":"B3m"},"transform":[{"filter":"datum.g=='PRE'"}],"mark":{"type":"point","shape":"M2.5,-13.4H36.5V-4H2.5Z","size":4,"filled":true,"fill":"white","stroke":"#a0a0a0","strokeWidth":0.6,"opacity":1}},
{"data":{"name":"B3m"},"transform":[{"filter":"datum.g=='PRE'"}],"mark":{"type":"text","fontSize":6,"dx":19.5,"dy":-8.7,"color":"#222"},"encoding":{"text":{"field":"t"}}},
{"data":{"name":"B3m"},"transform":[{"filter":"datum.g=='POST'"}],"mark":{"type":"point","shape":"M2.5,-1H35.5V8.4H2.5Z","size":4,"filled":true,"fill":"white","stroke":"#a0a0a0","strokeWidth":0.6,"opacity":1}},
{"data":{"name":"B3m"},"transform":[{"filter":"datum.g=='POST'"}],"mark":{"type":"text","fontSize":6,"dx":19,"dy":3.7,"color":"#222"},"encoding":{"text":{"field":"t"}}},
{"data":{"name":"B3m"},"transform":[{"filter":"datum.g=='POST-3h'"}],"mark":{"type":"point","shape":"M-18,-12H18V-2.6H-18Z","size":4,"filled":true,"fill":"white","stroke":"#a0a0a0","strokeWidth":0.6,"opacity":1}},
{"data":{"name":"B3m"},"transform":[{"filter":"datum.g=='POST-3h'"}],"mark":{"type":"text","fontSize":6,"dx":0,"dy":-7.3,"color":"#222"},"encoding":{"text":{"field":"t"}}}
]},
{"width":130,"height":272,"title":{"text":"10 km","fontSize":14,"offset":19},"data":{"name":"B4"},"resolve":{"scale":{"xOffset":"independent"}},
"encoding":{"x":{"field":"g","type":"nominal","title":null,"scale":{"domain":["PRE","POST","POST-3h"],"paddingInner":0,"paddingOuter":0},"axis":{"labelExpr":"[datum.label,'(n = 13)']","bandPosition":0.5}},"y":{"field":"v","type":"quantitative","scale":{"domain":[89000,213400],"nice":false,"zero":false},"axis":{"values":[100000,125000,150000,175000,200000],"format":",.0f","title":"Spheroid_Total_volume [OD*µm²]"}}},
"layer":[
{"transform":[{"density":"v","groupby":["g"],"resolve":"independent","as":["v","d"]}],"mark":{"type":"line","color":"#a6a6a6","strokeWidth":0.6},"encoding":{"xOffset":{"field":"d","type":"quantitative","scale":{"range":[21.65,35.15],"zero":true,"nice":false}},"detail":{"field":"g"},"order":{"field":"v","type":"quantitative"}}},
{"transform":[{"density":"v","groupby":["g"],"resolve":"independent","as":["v","d"]}],"mark":{"type":"line","color":"#a6a6a6","strokeWidth":0.6},"encoding":{"xOffset":{"field":"d","type":"quantitative","scale":{"range":[21.65,8.15],"zero":true,"nice":false}},"detail":{"field":"g"},"order":{"field":"v","type":"quantitative"}}},
{"mark":{"type":"circle","size":14,"opacity":0.6},"encoding":{"color":{"field":"g","type":"nominal","scale":{"domain":["PRE","POST","POST-3h"],"range":["#1B9E77","#D95F02","#7570B3"]},"legend":null}}},
{"mark":{"type":"boxplot","size":10,"outliers":false,"box":{"fill":"white","fillOpacity":0.55,"stroke":"#9a9a9a","strokeWidth":0.6},"median":{"color":"#9a9a9a","strokeWidth":0.6},"rule":{"color":"#9a9a9a","strokeWidth":0.6}}},
{"data":{"name":"B4m"},"mark":{"type":"line","color":"#e03030","opacity":0.5,"strokeWidth":0.6},"encoding":{"order":{"value":null}}},
{"data":{"name":"B4m"},"mark":{"type":"circle","color":"#8B0000","size":32,"opacity":1}},
{"data":{"name":"B4m"},"transform":[{"filter":"datum.g=='PRE'"}],"mark":{"type":"point","shape":"M5,-4.7H38V4.7H5Z","size":4,"filled":true,"fill":"white","stroke":"#a0a0a0","strokeWidth":0.6,"opacity":1}},
{"data":{"name":"B4m"},"transform":[{"filter":"datum.g=='PRE'"}],"mark":{"type":"text","fontSize":6,"dx":21.5,"dy":0,"color":"#222"},"encoding":{"text":{"field":"t"}}},
{"data":{"name":"B4m"},"transform":[{"filter":"datum.g=='POST'"}],"mark":{"type":"point","shape":"M3.5,-6.5H36.5V2.9H3.5Z","size":4,"filled":true,"fill":"white","stroke":"#a0a0a0","strokeWidth":0.6,"opacity":1}},
{"data":{"name":"B4m"},"transform":[{"filter":"datum.g=='POST'"}],"mark":{"type":"text","fontSize":6,"dx":20,"dy":-1.8,"color":"#222"},"encoding":{"text":{"field":"t"}}},
{"data":{"name":"B4m"},"transform":[{"filter":"datum.g=='POST-3h'"}],"mark":{"type":"point","shape":"M-15,4.8H17V14.2H-15Z","size":4,"filled":true,"fill":"white","stroke":"#a0a0a0","strokeWidth":0.6,"opacity":1}},
{"data":{"name":"B4m"},"transform":[{"filter":"datum.g=='POST-3h'"}],"mark":{"type":"text","fontSize":6,"dx":1,"dy":9.5,"color":"#222"},"encoding":{"text":{"field":"t"}}}
]}
]}
]}
]
}
